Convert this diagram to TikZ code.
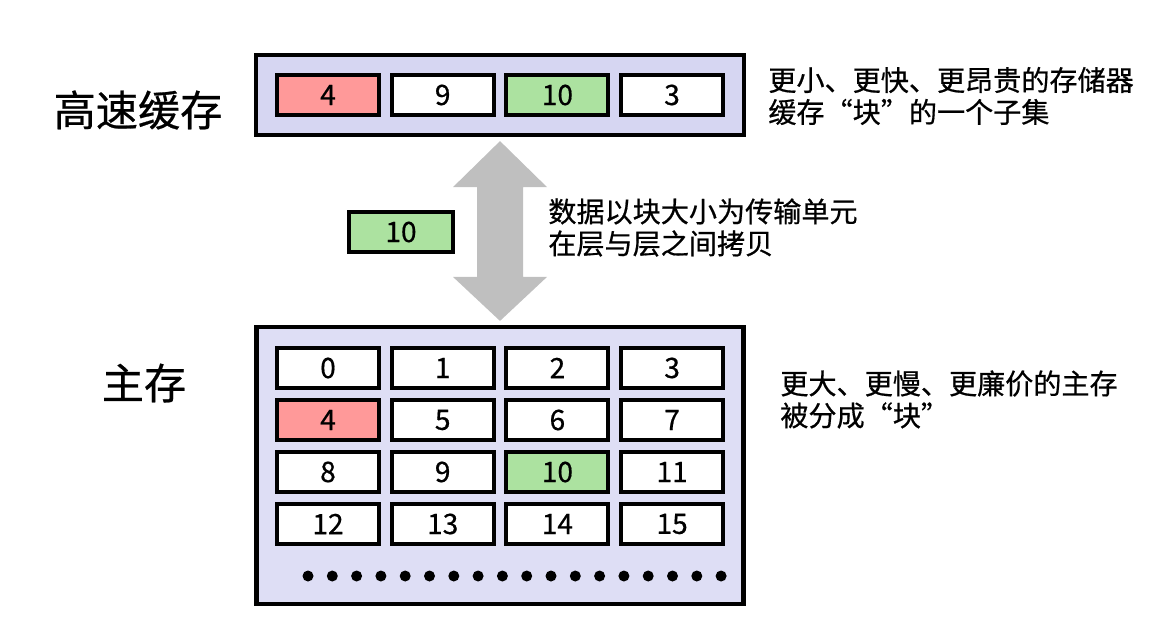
\documentclass[tikz,border=0pt]{standalone}
\usepackage{fontspec}
\setmainfont{Noto Sans CJK SC}[FakeBold=0.6]
\usetikzlibrary{calc}
\definecolor{cachebg}{RGB}{214,214,242}
\definecolor{membg}{RGB}{222,222,245}
\definecolor{hitred}{RGB}{255,153,153}
\definecolor{hitgreen}{RGB}{172,226,160}
\definecolor{arrowgray}{RGB}{191,191,191}
\tikzstyle{level} = [rectangle, draw=black, line width=2.4pt]
\tikzstyle{block} = [rectangle, minimum width=2.04cm, minimum height=0.8cm, inner sep=0pt, text centered, draw=black, line width=2.2pt, fill=white, font=\fontsize{16}{16}\selectfont]
\tikzstyle{title} = [inner sep=0pt, font=\fontsize{24}{24}\selectfont]
\tikzstyle{note} = [inner sep=0pt, anchor=west, align=left, font=\fontsize{16}{18.2}\selectfont]

\begin{document}
\begin{tikzpicture}[x=0.02cm, y=-0.02cm]
\useasboundingbox (0,0) rectangle (1165,632);

% cache level
\node (cache) [level, fill=cachebg, minimum width=9.76cm, minimum height=1.6cm] at (500,95) {};
\node (c4) [block, fill=hitred] at (328,95) {4};
\node (c9) [block] at (442.7,95) {9};
\node (c10) [block, fill=hitgreen] at (557.4,95) {10};
\node (c3) [block] at (672,95) {3};
\node (cachename) [title] at (138,110) {高速缓存};
\node (cachenote) [note] at (768,96) {更小、更快、更昂贵的存储器\\缓存“块”的一个子集};

% main memory level
\node (mem) [level, fill=membg, minimum width=9.74cm, minimum height=5.54cm] at (500,465.5) {};
\foreach \n/\f in {0/white,1/white,2/white,3/white,4/hitred,5/white,6/white,7/white,
                   8/white,9/white,10/hitgreen,11/white,12/white,13/white,14/white,15/white} {
  \pgfmathtruncatemacro\col{mod(\n,4)}
  \pgfmathtruncatemacro\row{div(\n,4)}
  \node (m\n) [block, fill=\f] at (328+114.7*\col, 368+52*\row) {\n};
}
\foreach \i in {0,...,17}
  \fill (308+24.3*\i,576) circle (0.11cm);
\node (memname) [title] at (144,383) {主存};
\node (memnote) [note] at (780,399.5) {更大、更慢、更廉价的主存\\被分成“块”};

% transfer between levels
\path (cache.south) ++(0,4) coordinate (atop);
\path (mem.north) ++(0,-4) coordinate (abot);
\fill[arrowgray] (atop) -- ++(47,46) -- ++(-24,0) -- ($(abot)+(23,-44)$) -- ++(24,0)
  -- (abot) -- ++(-47,-44) -- ++(24,0) -- ($(atop)+(-23,46)$) -- ++(-24,0) -- cycle;
\node (moved) [block, fill=hitgreen, minimum width=2.08cm] at (401,232) {10};
\node (movenote) [note] at (548,227.5) {数据以块大小为传输单元\\在层与层之间拷贝};

\end{tikzpicture}
\end{document}
